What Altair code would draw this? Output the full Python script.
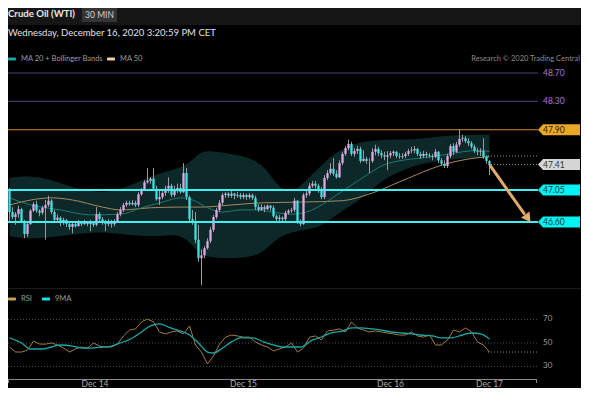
import altair as alt
import pandas as pd

FONT = "Lato"
W, H = 573, 380

# ---------------- data ----------------
closes = [46.74, 46.67, 46.71, 46.78, 46.61, 46.43, 46.57, 46.76, 46.85, 46.76,
          46.73, 46.80, 46.84, 46.90, 46.74, 46.63, 46.66, 46.60, 46.63, 46.57,
          46.53, 46.57, 46.54, 46.59, 46.57, 46.60, 46.57, 46.59, 46.56, 46.71,
          46.64, 46.60, 46.57, 46.60, 46.57, 46.61, 46.71, 46.77, 46.84, 46.87,
          46.85, 46.87, 46.84, 46.99, 47.05, 47.16, 47.18, 47.21, 47.07, 46.92,
          46.95, 47.01, 47.07, 47.11, 46.98, 47.04, 47.08, 47.02, 47.29, 46.95,
          46.64, 46.60, 46.35, 46.09, 46.13, 46.23, 46.33, 46.49, 46.67, 46.77,
          46.87, 46.98, 47.00, 46.97, 47.00, 46.97, 46.98, 46.95, 46.98, 46.95,
          46.98, 46.94, 46.81, 46.77, 46.81, 46.78, 46.83, 46.80, 46.68, 46.64,
          46.66, 46.64, 46.73, 46.76, 46.77, 46.90, 46.60, 46.57, 46.98, 47.00,
          47.11, 47.14, 47.11, 47.04, 46.95, 47.22, 47.29, 47.35, 47.28, 47.23,
          47.43, 47.56, 47.64, 47.70, 47.56, 47.60, 47.63, 47.46, 47.49, 47.46,
          47.46, 47.59, 47.63, 47.57, 47.54, 47.52, 47.54, 47.57, 47.59, 47.53,
          47.52, 47.53, 47.56, 47.60, 47.61, 47.63, 47.56, 47.53, 47.56, 47.54,
          47.53, 47.52, 47.59, 47.47, 47.42, 47.39, 47.53, 47.67, 47.59, 47.69,
          47.77, 47.78, 47.74, 47.71, 47.66, 47.60, 47.59, 47.60, 47.52, 47.46,
          47.41]
first_open = 47.05
highs = [47.08, 46.81, 46.74, 46.83, 46.80, 46.63, 46.60, 46.78, 46.88, 46.90,
         46.78, 46.83, 46.91, 46.97, 46.92, 46.77, 46.71, 46.68, 46.66, 46.64,
         46.60, 46.60, 46.61, 46.63, 46.61, 46.63, 46.61, 46.63, 46.61, 46.81,
         46.74, 46.67, 46.63, 46.64, 46.63, 46.64, 46.74, 46.81, 46.87, 46.90,
         46.90, 46.91, 46.90, 47.02, 47.08, 47.19, 47.36, 47.23, 47.36, 47.11,
         47.04, 47.05, 47.11, 47.23, 47.14, 47.11, 47.14, 47.14, 47.43, 47.36,
         46.97, 46.77, 46.74, 46.56, 46.21, 46.26, 46.37, 46.53, 46.70, 46.80,
         46.91, 47.01, 47.02, 47.02, 47.04, 47.01, 47.02, 47.01, 47.01, 47.00,
         47.01, 47.00, 46.97, 46.85, 46.85, 46.84, 46.85, 46.84, 46.83, 46.71,
         46.70, 46.68, 46.76, 46.78, 46.80, 46.94, 46.91, 46.64, 47.01, 47.04,
         47.15, 47.18, 47.18, 47.14, 47.09, 47.26, 47.33, 47.43, 47.50, 47.33,
         47.47, 47.59, 47.67, 47.76, 47.73, 47.64, 47.67, 47.66, 47.61, 47.52,
         47.50, 47.64, 47.69, 47.66, 47.61, 47.59, 47.60, 47.60, 47.61, 47.60,
         47.57, 47.57, 47.59, 47.63, 47.66, 47.67, 47.64, 47.59, 47.60, 47.59,
         47.57, 47.56, 47.63, 47.60, 47.50, 47.47, 47.56, 47.70, 47.71, 47.73,
         47.90, 47.83, 47.81, 47.78, 47.74, 47.69, 47.64, 47.64, 47.78, 47.54,
         47.47]
lows = [46.60, 46.64, 46.56, 46.66, 46.59, 46.37, 46.39, 46.56, 46.74, 46.73,
        46.68, 46.70, 46.35, 46.81, 46.71, 46.60, 46.60, 46.54, 46.56, 46.53,
        46.49, 46.44, 46.52, 46.54, 46.54, 46.56, 46.54, 46.47, 46.53, 46.54,
        46.60, 46.56, 46.47, 46.54, 46.52, 46.54, 46.59, 46.68, 46.74, 46.81,
        46.83, 46.83, 46.81, 46.81, 46.97, 47.04, 47.14, 47.14, 47.04, 46.90,
        46.84, 46.92, 46.97, 47.01, 46.95, 46.95, 47.01, 47.00, 47.01, 46.91,
        46.60, 46.56, 46.30, 46.04, 45.71, 46.09, 46.21, 46.30, 46.46, 46.64,
        46.74, 46.84, 46.94, 46.94, 46.94, 46.92, 46.94, 46.92, 46.92, 46.91,
        46.92, 46.91, 46.77, 46.74, 46.76, 46.74, 46.77, 46.76, 46.66, 46.61,
        46.61, 46.60, 46.61, 46.70, 46.73, 46.74, 46.57, 46.54, 46.56, 46.94,
        46.97, 47.08, 47.07, 47.01, 46.92, 46.92, 47.19, 47.26, 47.25, 47.21,
        47.22, 47.40, 47.53, 47.61, 47.53, 47.52, 47.56, 47.43, 47.45, 47.42,
        47.29, 47.43, 47.54, 47.53, 47.50, 47.47, 47.33, 47.50, 47.53, 47.50,
        47.49, 47.49, 47.50, 47.53, 47.57, 47.57, 47.53, 47.49, 47.50, 47.50,
        47.50, 47.47, 47.50, 47.43, 47.39, 47.36, 47.36, 47.50, 47.54, 47.57,
        47.66, 47.73, 47.71, 47.67, 47.63, 47.57, 47.54, 47.53, 47.49, 47.42,
        47.26]

band_bar = [0, 4, 11, 17, 24, 31, 37, 44, 51, 57, 61, 64, 69, 77, 82, 86, 89, 94,
            99, 104, 109, 114, 119, 124, 131, 137, 144, 151, 160]
band_upper = [47.22, 47.25, 47.23, 47.15, 47.05, 47.01, 47.05, 47.19, 47.30, 47.36,
              47.47, 47.61, 47.59, 47.54, 47.47, 47.33, 47.12, 46.98, 47.19, 47.40,
              47.59, 47.69, 47.74, 47.76, 47.76, 47.77, 47.81, 47.83, 47.83]
band_lower = [46.40, 46.37, 46.37, 46.40, 46.44, 46.46, 46.43, 46.40, 46.40, 46.43,
              46.28, 46.12, 46.09, 46.09, 46.12, 46.23, 46.37, 46.46, 46.49, 46.54,
              46.70, 46.84, 46.98, 47.19, 47.33, 47.42, 47.47, 47.50, 47.50]

ma20_bar = [0, 7, 17, 27, 37, 44, 51, 57, 61, 66, 71, 77, 82, 89, 94, 99, 104, 109,
            114, 119, 124, 131, 137, 144, 151, 157, 160]
ma20_val = [46.94, 46.84, 46.77, 46.70, 46.71, 46.80, 46.88, 46.94, 46.91, 46.80,
            46.74, 46.77, 46.77, 46.73, 46.71, 46.74, 46.84, 46.98, 47.12, 47.26,
            47.39, 47.47, 47.50, 47.54, 47.59, 47.61, 47.59]

ma50_bar = [0, 14, 21, 31, 37, 47, 57, 64, 74, 84, 97, 111, 121, 133, 144, 155, 160]
ma50_val = [46.84, 46.94, 46.91, 46.81, 46.77, 46.80, 46.81, 46.81, 46.84, 46.87,
            46.88, 46.90, 47.01, 47.22, 47.40, 47.50, 47.52]

rsi_val = [46.6, 42.3, 42.3, 44.0, 51.7, 49.1, 49.0, 50.0, 48.3, 45.7,
           42.3, 45.0, 46.6, 45.7, 50.0, 47.4, 46.6, 46.6, 49.1, 56.0,
           61.0, 62.0, 68.0, 70.4, 68.0, 59.4, 57.7, 59.4, 60.2, 57.7,
           64.5, 48.3, 42.3, 32.1, 39.0, 49.0, 55.0, 56.8, 56.0, 55.0,
           55.0, 50.9, 48.3, 46.6, 43.2, 45.0, 46.6, 50.0, 42.3, 45.7,
           55.0, 56.0, 52.6, 60.2, 61.0, 62.0, 59.4, 67.9, 62.8, 61.0,
           59.4, 60.2, 59.4, 58.5, 57.7, 56.8, 56.8, 59.4, 56.0, 55.0,
           56.8, 48.3, 48.3, 52.6, 61.0, 59.4, 62.8, 59.4, 50.9, 48.3,
           42.3]
rsi_step = 2

ma9_bar = [0, 4, 7, 11, 14, 17, 21, 24, 27, 31, 34, 37, 41, 44, 47, 50, 53, 56, 60, 63,
           66, 68, 71, 74, 77, 81, 84, 87, 91, 94, 97, 101, 104, 107, 111, 114, 117, 121,
           124, 127, 131, 134, 137, 141, 144, 147, 151, 154, 157, 160]
ma9_val = [54.3, 50.0, 44.9, 44.9, 46.6, 48.3, 47.4, 45.7, 45.7, 46.6,
           47.4, 50.0, 54.3, 59.4, 64.5, 66.2, 63.6, 61.0, 56.8, 50.0,
           42.3, 41.5, 45.7, 50.9, 54.3, 54.3, 51.7, 49.1, 46.6, 46.6,
           46.6, 52.6, 55.1, 58.5, 60.2, 62.8, 62.8, 61.9, 61.0, 59.4,
           58.5, 57.7, 56.8, 56.0, 54.3, 54.3, 56.8, 58.5, 57.7, 53.4]

levels = [48.70, 48.30, 47.90, 47.05, 46.60]
level_labels = ["48.70", "48.30", "47.90", "47.05", "46.60"]
last_price = 47.41
last_band = 47.53
rsi_levels = [70, 50, 30]
rsi_last = 42.3
day_bars = [28.5, 78, 127, 160]
day_labels = ["Dec 14", "Dec 15", "Dec 16", "Dec 17"]
arrow_from = (160.3, 47.39)
arrow_to = (171.5, 46.72)
arrow_head = (172.5, 46.67)

# ---------------- frames ----------------
opens = [first_open] + closes[:-1]
candles = pd.DataFrame({
    "bar": list(range(len(closes))),
    "open": opens,
    "close": closes,
    "high": [max(h, o, c) for h, o, c in zip(highs, opens, closes)],
    "low": [min(l, o, c) for l, o, c in zip(lows, opens, closes)],
})
candles["dir"] = ["up" if c >= o else "down" for o, c in zip(opens, closes)]
band = pd.DataFrame({"bar": band_bar, "upper": band_upper, "lower": band_lower})
ma20 = pd.DataFrame({"bar": ma20_bar, "v": ma20_val})
ma50 = pd.DataFrame({"bar": ma50_bar, "v": ma50_val})
rsi = pd.DataFrame({"bar": [i * rsi_step for i in range(len(rsi_val))], "v": rsi_val})
ma9 = pd.DataFrame({"bar": ma9_bar, "v": ma9_val})
one = pd.DataFrame({"a": [0]})

xs = alt.Scale(domain=[-0.5, 190.5], nice=False, zero=False)
ps = alt.Scale(domain=[44.260, 49.616], nice=False, zero=False)
rs = alt.Scale(domain=[11.70, 335.11], nice=False, zero=False)

X = lambda f="bar": alt.X(f"{f}:Q", scale=xs, axis=None)
YP = lambda f: alt.Y(f"{f}:Q", scale=ps, axis=None)
YR = lambda f: alt.Y(f"{f}:Q", scale=rs, axis=None)


def text(txt, x, y, size=8, color="#cccccc", weight="normal", align="left", baseline="middle"):
    return alt.Chart(one).mark_text(text=txt, fontSize=size, color=color, fontWeight=weight,
                                    align=align, baseline=baseline, font=FONT).encode(
        x=alt.value(x), y=alt.value(y))


def box(x1, x2, y1, y2, color, r=0):
    return alt.Chart(one).mark_rect(color=color, cornerRadius=r).encode(
        x=alt.value(x1), x2=alt.value(x2), y=alt.value(y1), y2=alt.value(y2))


layers = []
# header band
layers.append(box(0, W, 0, 17, "#161616"))
layers.append(box(74, 109, 0, 14, "#343434"))
layers.append(text("Crude Oil (WTI)", 0, 6, 9.6, "#e8e8e8", "bold"))
layers.append(text("30 MIN", 91.5, 6.5, 8.5, "#cfcfcf", align="center"))
layers.append(text("Wednesday, December 16, 2020 3:20:59 PM CET", 0, 25, 9.5, "#e0e0e0"))
# legend
layers.append(box(0, 8, 49.5, 52.5, "#1aa89e", 1))
layers.append(text("MA 20 + Bollinger Bands", 13, 51, 7.5, "#9a9a9a"))
layers.append(box(99, 107, 49.5, 52.5, "#f2cfa6", 1))
layers.append(text("MA 50", 112, 51, 7.5, "#9a9a9a"))
layers.append(text("Research \u00a9 2020 Trading Central", 572, 51, 7.5, "#8a8a8a", align="right"))

# bollinger band and moving averages
layers.append(alt.Chart(band).mark_area(color="#0d2828", interpolate="basis").encode(
    x=X(), y=YP("upper"), y2=alt.Y2("lower")))
layers.append(alt.Chart(ma50).mark_line(color="#a8885a", strokeWidth=1, interpolate="monotone").encode(
    x=X(), y=YP("v")))
layers.append(alt.Chart(ma20).mark_line(color="#1e7a72", strokeWidth=1, interpolate="monotone").encode(
    x=X(), y=YP("v")))

# candles
layers.append(alt.Chart(candles).mark_rule(color="#9a9a9a", strokeWidth=1).encode(
    x=X(), y=YP("low"), y2=alt.Y2("high")))
layers.append(alt.Chart(candles).mark_rule(strokeWidth=2.3).encode(
    x=X(), y=YP("open"), y2=alt.Y2("close"),
    color=alt.Color("dir:N", scale=alt.Scale(domain=["up", "down"], range=["#e4a6e6", "#3fe2e2"]),
                    legend=None)))

# level lines
lv = pd.DataFrame({"p": levels, "c": ["#4e3f7e", "#4e3f7e", "#c99030", "#3ff0f0", "#3ff0f0"],
                   "w": [1, 1, 1, 2, 2]})
layers.append(alt.Chart(lv).mark_rule().encode(
    x=alt.value(0), x2=alt.value(530), y=YP("p"),
    color=alt.Color("c:N", scale=None), strokeWidth=alt.StrokeWidth("w:Q", scale=None)))
# dotted last-value lines
dl = pd.DataFrame({"p": [last_band, last_price]})
layers.append(alt.Chart(dl).mark_rule(color="#8a8a8a", strokeDash=[1, 2], strokeWidth=1).encode(
    x=alt.value(480), x2=alt.value(529), y=YP("p")))

# arrow
ar = pd.DataFrame({"x": [arrow_from[0]], "y": [arrow_from[1]], "x2": [arrow_to[0]], "y2": [arrow_to[1]]})
layers.append(alt.Chart(ar).mark_rule(color="#e0aa6c", strokeWidth=3, strokeCap="round").encode(
    x=X("x"), y=YP("y"), x2=alt.X2("x2"), y2=alt.Y2("y2")))
ah = pd.DataFrame({"x": [arrow_head[0]], "y": [arrow_head[1]]})
layers.append(alt.Chart(ah).mark_point(shape="triangle", filled=True, size=110, angle=144,
                                        color="#e0aa6c", opacity=1, strokeWidth=0).encode(
    x=X("x"), y=YP("y")))

# right labels
badge_path = "M-1,0L-0.76,-0.262L1,-0.262L1,0.262L-0.76,0.262Z"
bd = pd.DataFrame({"p": [levels[2], last_price, levels[3], levels[4]],
                   "c": ["#eaa824", "#d6d6d6", "#00f2f2", "#00f2f2"]})
layers.append(alt.Chart(bd).mark_point(shape=badge_path, filled=True, size=1764, opacity=1,
                                        strokeWidth=0).encode(
    x=alt.value(551), y=YP("p"), color=alt.Color("c:N", scale=None)))
lt = pd.DataFrame({"p": levels + [last_price], "t": level_labels + ["47.41"],
                   "c": ["#a776dd", "#a776dd", "#1a1a1a", "#0b3b3b", "#0b3b3b", "#333333"]})
layers.append(alt.Chart(lt).mark_text(fontSize=8.5, align="left", baseline="middle", font=FONT).encode(
    x=alt.value(535), y=YP("p"), text="t:N", color=alt.Color("c:N", scale=None)))

# panel separator
layers.append(box(0, W, 280, 281, "#1c1c1c"))

# RSI panel
layers.append(box(0, 8, 289.5, 292.5, "#c4a052", 1))
layers.append(text("RSI", 13, 291, 7.5, "#9a9a9a"))
layers.append(box(34, 42, 289.5, 292.5, "#10e6e6", 1))
layers.append(text("9MA", 47, 291, 7.5, "#9a9a9a"))
rl = pd.DataFrame({"v": rsi_levels, "t": [str(v) for v in rsi_levels]})
layers.append(alt.Chart(rl).mark_rule(color="#4a4a4a", strokeDash=[1, 2], strokeWidth=1).encode(
    x=alt.value(0), x2=alt.value(529), y=YR("v")))
layers.append(alt.Chart(rl).mark_text(fontSize=8, color="#9a9a9a", align="left", baseline="middle",
                                       font=FONT).encode(x=alt.value(535), y=YR("v"), text="t:N"))
layers.append(alt.Chart(pd.DataFrame({"v": [rsi_last]})).mark_rule(
    color="#8a8a8a", strokeDash=[1, 2], strokeWidth=1).encode(x=alt.value(480), x2=alt.value(529), y=YR("v")))
layers.append(alt.Chart(rsi).mark_line(color="#a07c45", strokeWidth=1).encode(x=X(), y=YR("v")))
layers.append(alt.Chart(ma9).mark_line(color="#1aa8a8", strokeWidth=1.3, interpolate="monotone").encode(
    x=X(), y=YR("v")))

# bottom axis
layers.append(box(0, 529, 371, 372, "#8a8a8a"))
layers.append(box(0, 1, 371, 375, "#8a8a8a"))
layers.append(box(528, 529, 371, 375, "#8a8a8a"))
dd = pd.DataFrame({"bar": day_bars, "t": day_labels})
layers.append(alt.Chart(dd).mark_text(fontSize=8.5, color="#aaaaaa", align="center", baseline="alphabetic",
                                       font=FONT).encode(x=X(), y=alt.value(379), text="t:N"))

chart = alt.layer(*layers).resolve_scale(y="independent").properties(
    width=W, height=H, autosize=alt.AutoSizeParams(type="none"), padding=0,
    background="#000000",
).configure_view(stroke=None)

chart.save("out.html", embed_options={"renderer": "svg", "actions": False})
